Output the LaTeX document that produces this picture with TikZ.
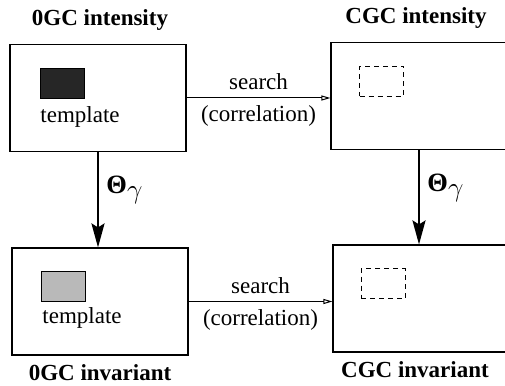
\documentclass[tikz,border=0pt]{standalone}
\usepackage{fontspec}
\setmainfont{Liberation Serif}
\usetikzlibrary{arrows.meta}
\newcommand{\thetagamma}{\scalebox{1.15}{\textbf{Θ}}\raisebox{-5pt}{\scalebox{1.1}{$\gamma$}}}
\begin{document}
\begin{tikzpicture}[x=1pt, y=-1pt,
  font=\fontsize{23}{27}\selectfont,
  image/.style={draw, line width=1.1pt, minimum width=176pt, minimum height=107pt, inner sep=0pt},
  patch/.style={draw, line width=0.8pt, minimum width=44pt, minimum height=30pt, inner sep=0pt},
  heading/.style={font=\fontsize{23}{27}\selectfont\bfseries},
  search/.style={line width=1pt, -{Triangle[open, length=9pt, width=5pt]}},
  transform/.style={line width=2.2pt, -{Stealth[length=24pt, width=13pt, inset=4pt]}}]
\useasboundingbox (0,0) rectangle (505,385);
\node[heading] (t1) at (100,20) {0GC intensity};
\node[heading] (t2) at (416,18) {CGC intensity};
\node[heading] (t3) at (100,373) {0GC invariant};
\node[heading] (t4) at (415,370) {CGC invariant};
\node[image] (a) at (98,98) {};
\node[image] (b) at (419,96) {};
\node[image] (c) at (100,301.5) {};
\node[image] (d) at (421,298.5) {};
\node[patch, fill=black!85] (ta) at (62,83.5) {};
\node[patch, fill=gray!55] (tc) at (63.5,286) {};
\node[patch, dash pattern=on 5pt off 4pt] (sb) at (381.5,81) {};
\node[patch, dash pattern=on 5pt off 4pt] (sd) at (383,283.5) {};
\node (la) at (80,117) {template};
\node (lc) at (82,318) {template};
\path[draw,search] (a.east) -- (a.east -| b.west)
  node[midway, above=4pt] {search} node[midway, below=4pt] {(correlation)};
\path[draw,search] (c.east) -- (c.east -| d.west)
  node[midway, above=4pt] {search} node[midway, below=4pt] {(correlation)};
\path[draw,transform] (a.south) -- (a.south |- c.north)
  node[pos=.4, right=4pt] {\thetagamma};
\path[draw,transform] (b.south) -- (b.south |- d.north)
  node[pos=.4, right=4pt] {\thetagamma};
\end{tikzpicture}
\end{document}
